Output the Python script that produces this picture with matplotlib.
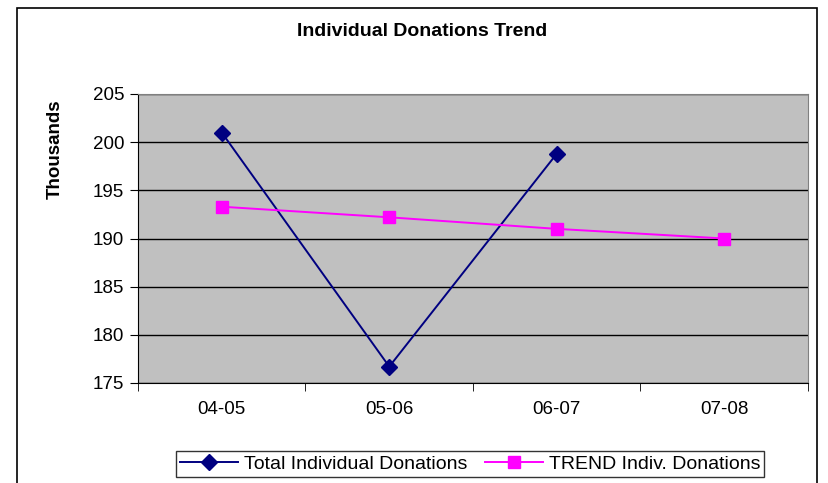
import numpy as np
import matplotlib.pyplot as plt
from matplotlib.patches import Rectangle

plt.rcParams['font.family'] = ['Liberation Sans', 'DejaVu Sans']

# data (thousands)
years = ['04-05', '05-06', '06-07', '07-08']
total = [201.0, 176.7, 198.8]
trend = [193.3, 192.2, 191.0, 190.0]

fig = plt.figure(figsize=(8.29, 4.83), dpi=100)

# outer chart border
fig.patches.append(Rectangle((17/829, -0.01), 800/829, 1 - 8/483 + 0.01,
                             transform=fig.transFigure, fill=False,
                             edgecolor='black', linewidth=1.2))

ax = fig.add_axes([138/829, 100/483, 670/829, 289/483])
ax.set_facecolor('#C0C0C0')

x = np.arange(len(years))
ax.plot(x[:len(total)], total, color='#000080', marker='D', markersize=8.5,
        linewidth=1.4, label='Total Individual Donations')
ax.plot(x, trend, color='#FF00FF', marker='s', markersize=8.5,
        linewidth=1.4, label='TREND Indiv. Donations')

ax.set_xlim(-0.5, 3.5)
ax.set_ylim(175, 205)
ax.set_yticks(np.arange(175, 206, 5))
ax.yaxis.grid(True, color='black', linewidth=1)
ax.set_axisbelow(True)

ax.set_xticks(x)
ax.set_xticklabels(years, fontsize=13.5)
ax.set_xticks(np.arange(-0.5, 3.6, 1), minor=True)
ax.tick_params(axis='x', which='major', length=0, pad=13)
ax.tick_params(axis='x', which='minor', length=6, direction='out')
ax.tick_params(axis='y', length=6, direction='out', labelsize=13.5, pad=4)

for s in ['top', 'right']:
    ax.spines[s].set_color('#808080')
for s in ['left', 'bottom']:
    ax.spines[s].set_color('black')

fig.text(422/829, 1 - 32/483, 'Individual Donations Trend', ha='center',
         va='center', fontsize=14, fontweight='bold')
fig.text(55/829, 1 - 149/483, 'Thousands', ha='center', va='center',
         rotation=90, fontsize=13.5, fontweight='bold')

leg = fig.legend(loc='center', bbox_to_anchor=(470/829, 1 - 464/483),
                 ncol=2, fontsize=14, frameon=True, fancybox=False,
                 edgecolor='black', handlelength=3, columnspacing=0.9,
                 handletextpad=0.3, borderpad=0.2)
leg.get_frame().set_linewidth(1)

fig.savefig('out.png', dpi=100)
